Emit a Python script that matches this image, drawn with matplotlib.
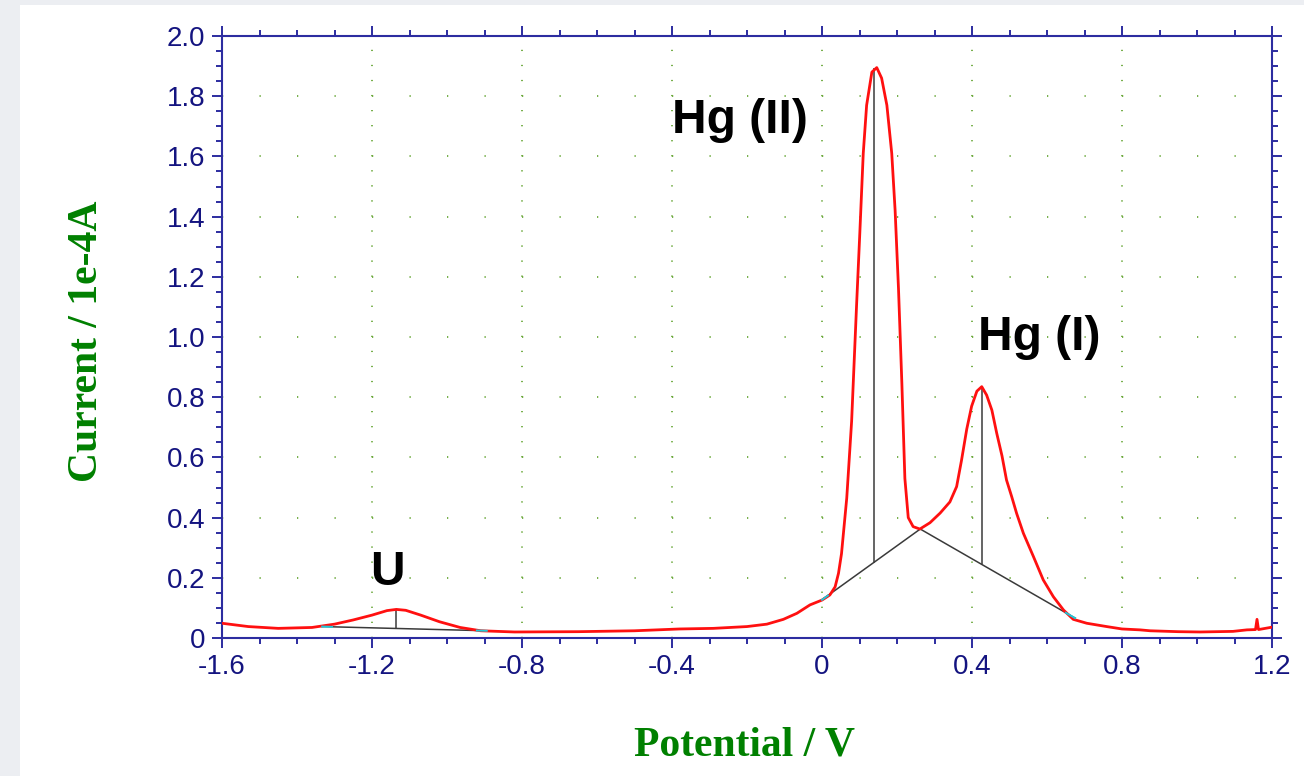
#Stripping voltammogram: U, Hg(II) and Hg(I) peaks with peak baselines

import matplotlib.pyplot as plt
from matplotlib.patches import Rectangle
from matplotlib.ticker import MultipleLocator
import numpy as np

plt.rcParams['lines.scale_dashes'] = False

#curve (V, 1e-4 A)
potential = [-1.60, -1.53, -1.45, -1.36, -1.30, -1.25, -1.20, -1.16, -1.135, -1.11,
             -1.07, -1.02, -0.965, -0.91, -0.82, -0.65, -0.50, -0.38, -0.29, -0.20,
             -0.147, -0.103, -0.067, -0.032, 0.0, 0.021, 0.035, 0.044, 0.052, 0.066,
             0.079, 0.092, 0.101, 0.110, 0.119, 0.133, 0.146, 0.159, 0.173, 0.186,
             0.195, 0.204, 0.213, 0.221, 0.230, 0.243, 0.261, 0.288, 0.315, 0.341,
             0.359, 0.372, 0.386, 0.399, 0.413, 0.426, 0.439, 0.453, 0.466, 0.480,
             0.492, 0.506, 0.519, 0.537, 0.564, 0.590, 0.617, 0.644, 0.670, 0.706,
             0.759, 0.800, 0.848, 0.875, 0.950, 1.008, 1.096, 1.133, 1.156, 1.160,
             1.164, 1.200]
current = [0.049, 0.038, 0.032, 0.035, 0.046, 0.060, 0.076, 0.091, 0.095, 0.092,
           0.076, 0.054, 0.035, 0.024, 0.020, 0.021, 0.024, 0.030, 0.032, 0.038,
           0.046, 0.062, 0.082, 0.110, 0.126, 0.143, 0.170, 0.215, 0.280, 0.465,
           0.720, 1.100, 1.350, 1.610, 1.770, 1.880, 1.895, 1.860, 1.770, 1.610,
           1.420, 1.160, 0.845, 0.530, 0.400, 0.370, 0.362, 0.383, 0.415, 0.452,
           0.503, 0.590, 0.694, 0.770, 0.820, 0.835, 0.807, 0.757, 0.680, 0.605,
           0.525, 0.469, 0.414, 0.348, 0.270, 0.193, 0.137, 0.093, 0.062, 0.049,
           0.038, 0.030, 0.027, 0.024, 0.021, 0.020, 0.022, 0.027, 0.028, 0.062,
           0.028, 0.036]

#peak baselines
u_base_x = [-1.333, -0.894]
u_base_y = [0.038, 0.024]
hg_base_x = [0.0, 0.262, 0.675]
hg_base_y = [0.127, 0.362, 0.066]

#peak markers
u_peak_x, u_peak_top = -1.135, 0.095
hg_peak_x = [0.138, 0.426]
hg_peak_top = [1.895, 0.835]

#labels
peak_names = ['U', 'Hg (II)', 'Hg (I)']
name_x = [-1.206, -0.401, 0.417]
name_y = [0.176, 1.678, 0.957]

xtick_vals = [-1.6, -1.2, -0.8, -0.4, 0, 0.4, 0.8, 1.2]
xtick_labels = ['-1.6', '-1.2', '-0.8', '-0.4', '0', '0.4', '0.8', '1.2']
ytick_vals = [0, 0.2, 0.4, 0.6, 0.8, 1.0, 1.2, 1.4, 1.6, 1.8, 2.0]
ytick_labels = ['0', '0.2', '0.4', '0.6', '0.8', '1.0', '1.2', '1.4', '1.6', '1.8', '2.0']

frame = '#2c2ca0'
labcol = '#141480'
green = '#008000'
dotcol = '#6aa83a'

fig = plt.figure(figsize=(13.04, 7.76), dpi=100, facecolor='#eceef2')
fig.patches.append(Rectangle((20/1304, 0), 1, 1 - 5/776, transform=fig.transFigure,
                             facecolor='white', edgecolor='none', zorder=-10))
ax = fig.add_axes([222/1304, 1 - 638/776, 1050/1304, 602/776])

ax.plot(potential, current, color='#ff1010', linewidth=2.0, zorder=3)

#baselines, black with short cyan bits at the ends
for bx, by in [(u_base_x, u_base_y), (hg_base_x, hg_base_y)]:
    ax.plot(bx, by, color='#3a3a3a', linewidth=1.1, zorder=2)
    for end in (0, -1):
        nxt = 1 if end == 0 else -2
        cx = [bx[end], bx[end] + 0.06*(bx[nxt] - bx[end])]
        cy = [by[end], by[end] + 0.06*(by[nxt] - by[end])]
        ax.plot(cx, cy, color='#20c8d8', linewidth=1.4, zorder=4)

ax.vlines(u_peak_x, np.interp(u_peak_x, u_base_x, u_base_y), u_peak_top,
          color='#3a3a3a', linewidth=1.1, zorder=2)
ax.vlines(hg_peak_x, np.interp(hg_peak_x, hg_base_x, hg_base_y), hg_peak_top,
          color='#3a3a3a', linewidth=1.1, zorder=2)

for name, nx, ny in zip(peak_names, name_x, name_y):
    ax.text(nx, ny, name, fontsize=34.5, fontweight='bold', family='Liberation Sans',
            ha='left', va='baseline', color='black', zorder=5)

ax.set_xlim(-1.6, 1.2)
ax.set_ylim(0, 2.0)
ax.set_xticks(xtick_vals, xtick_labels)
ax.set_yticks(ytick_vals, ytick_labels)
ax.xaxis.set_minor_locator(MultipleLocator(0.1))
ax.yaxis.set_minor_locator(MultipleLocator(0.05))

#dotted grid: dots every 0.05 up the verticals, every 0.1 along the horizontals
ax.set_axisbelow(True)
ax.xaxis.grid(True, which='major', color=dotcol, linewidth=1.3,
              linestyle=(0, (0.9, 0.05*301/(100/72) - 0.9)))
ax.yaxis.grid(True, which='major', color=dotcol, linewidth=1.3,
              linestyle=(0, (0.9, 0.1*375/(100/72) - 0.9)))

for s in ax.spines.values():
    s.set_color(frame)
    s.set_linewidth(1.5)
ax.tick_params(which='both', direction='out', top=True, right=True, color=frame,
               width=1.4, labelcolor=labcol)
ax.tick_params(which='major', length=7.5, labelsize=20)
ax.tick_params(which='minor', length=4.2)
ax.tick_params(axis='x', which='major', pad=4)
ax.tick_params(axis='y', which='major', pad=4.5)
for lab in ax.get_xticklabels() + ax.get_yticklabels():
    lab.set_family('Liberation Sans')

ax.set_xlabel('Potential / V', family='Liberation Serif', fontweight='bold',
              fontsize=30, color=green, va='baseline')
ax.xaxis.set_label_coords(0.4976, -0.1944)
ax.set_ylabel('Current / 1e-4A', family='Liberation Serif', fontweight='bold',
              fontsize=30, color=green, va='baseline', ha='center',
              rotation_mode='anchor')
ax.yaxis.set_label_coords(-0.119, 0.4925)

plt.savefig('out.png', dpi=100, facecolor=fig.get_facecolor())
